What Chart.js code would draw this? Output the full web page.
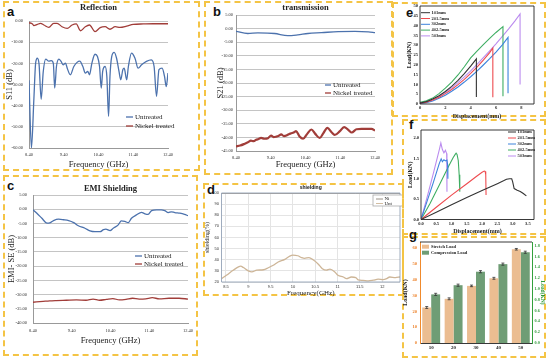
<!DOCTYPE html>
<html>
<head>
<meta charset="utf-8">
<script src="https://cdn.jsdelivr.net/npm/chart.js@4.4.1/dist/chart.umd.min.js"></script>
<style>
body { margin: 0; width: 550px; height: 362px; background: #fff; position: relative; overflow: hidden; }
.box { position: absolute; border: 2px dashed #f4c445; box-sizing: border-box; }
.lbl { position: absolute; font: bold 13px "Liberation Sans", Arial, sans-serif; line-height: 1; color: #111; }
canvas { position: absolute; }
</style>
</head>
<body>
<div class="box" style="left:3px;top:1px;width:197px;height:170px"></div>
<div class="box" style="left:204px;top:1px;width:189px;height:174px"></div>
<div class="box" style="left:3px;top:175px;width:195px;height:181px"></div>
<div class="box" style="left:203px;top:183px;width:201px;height:113px"></div>
<div class="box" style="left:392px;top:2px;width:154px;height:115px"></div>
<div class="box" style="left:402px;top:119px;width:144px;height:116px"></div>
<div class="box" style="left:402px;top:236px;width:144px;height:122px"></div>
<div class="lbl" style="left:7px;top:5px">a</div>
<div class="lbl" style="left:213px;top:5px">b</div>
<div class="lbl" style="left:7px;top:179px">c</div>
<div class="lbl" style="left:207px;top:183px">d</div>
<div class="lbl" style="left:406px;top:6px">e</div>
<div class="lbl" style="left:409px;top:118px">f</div>
<div class="lbl" style="left:409px;top:228px">g</div>
<script>
// ---- a: reflection ----
const aFreqUnt = [8.40, 8.47, 8.54, 8.59, 8.64, 8.69, 8.75, 8.81, 8.88, 8.97, 9.04, 9.10, 9.14, 9.19, 9.26, 9.32, 9.38, 9.45, 9.50, 9.59, 9.69, 9.86, 9.95, 10.02, 10.09, 10.14, 10.21, 10.30, 10.37, 10.43, 10.48, 10.52, 10.59, 10.64, 10.69, 10.73, 10.78, 10.85, 10.92, 10.99, 11.04, 11.10, 11.14, 11.21, 11.26, 11.35, 11.45, 11.54, 11.64, 11.78, 11.92, 12.00, 12.07, 12.14, 12.23, 12.30, 12.35, 12.40];
const aS11Unt = [-28, -60, -37, -20, -17.6, -20.5, -37, -24, -18, -19, -18.7, -20, -31.7, -21.5, -18, -19, -20.7, -19.9, -22.3, -25.4, -21.5, -19, -21.5, -24.6, -23.8, -25.4, -19.9, -15.7, -16.8, -21.5, -31.7, -23.8, -21.5, -26.2, -45, -26.2, -16.8, -14.8, -17.6, -23.8, -27.8, -23, -22.3, -27.8, -21.5, -15.2, -17.6, -22.3, -20.7, -19.1, -18.4, -21.5, -35.6, -23, -22.3, -26.2, -31, -24.6];
const aFreqNi = [8.40, 8.50, 8.54, 8.64, 8.73, 8.83, 8.97, 9.11, 9.21, 9.35, 9.50, 9.64, 9.76, 9.88, 10.02, 10.14, 10.30, 10.45, 10.59, 10.73, 10.88, 11.02, 11.21, 11.40, 11.69, 11.97, 12.40];
const aS11Ni = [-0.8, -1.4, -2.2, -1.6, -1.1, -1.9, -3.0, -1.1, -1.1, -2.7, -3.5, -1.9, -1.4, -4.6, -2.7, -1.9, -5.0, -3.1, -2.7, -3.9, -2.7, -3.0, -2.4, -1.6, -1.4, -1.3, -1.3];
const aYTicks = [0, -10, -20, -30, -40, -50, -60];

// ---- b: transmission ----
const bFreqUnt = [8.40, 8.74, 9.03, 9.51, 9.89, 10.18, 10.47, 10.86, 11.34, 11.82, 12.21, 12.40];
const bS21Unt = [-1.0, -1.8, -1.6, -1.8, -2.6, -2.3, -1.8, -1.5, -1.1, -1.0, -1.2, -1.5];
const bFreqNi = [8.40, 8.52, 8.64, 8.74, 8.83, 8.91, 8.98, 9.05, 9.12, 9.22, 9.32, 9.41, 9.48, 9.56, 9.63, 9.70, 9.78, 9.85, 9.92, 9.99, 10.06, 10.13, 10.23, 10.33, 10.45, 10.57, 10.68, 10.81, 10.91, 11.03, 11.15, 11.24, 11.39, 11.51, 11.63, 11.73, 11.87, 12.01, 12.16, 12.30, 12.40];
const bS21Ni = [-43.3, -43.0, -42.4, -41.8, -41.2, -41.4, -40.9, -40.6, -40.2, -40.5, -40.3, -39.3, -39.9, -39.7, -39.4, -38.9, -39.5, -39.3, -38.8, -38.5, -38.2, -37.7, -39.7, -40.5, -38.7, -37.1, -38.7, -40.2, -38.5, -36.5, -38.1, -39.1, -37.7, -36.2, -37.2, -38.2, -37.0, -36.9, -36.9, -36.9, -37.5];
const bYTicks = [5, 0, -5, -10, -15, -20, -25, -30, -35, -40, -45];

// ---- c: EMI shielding ----
const cFreqUnt = [8.40, 8.50, 8.63, 8.76, 8.85, 8.93, 9.06, 9.19, 9.32, 9.45, 9.57, 9.74, 9.87, 10.00, 10.13, 10.22, 10.28, 10.39, 10.47, 10.60, 10.68, 10.77, 10.86, 10.94, 11.07, 11.20, 11.29, 11.37, 11.46, 11.59, 11.71, 11.80, 11.89, 11.97, 12.06, 12.19, 12.31, 12.40];
const cSEUnt = [-0.2, -1.4, -3.2, -4.9, -4.7, -4.0, -3.5, -3.7, -4.0, -4.7, -5.8, -6.7, -7.6, -7.9, -7.9, -7.2, -7.0, -7.5, -6.7, -5.5, -4.1, -4.3, -4.7, -3.2, -2.0, -1.1, -1.6, -1.8, -0.5, -0.2, -0.2, -0.5, -1.2, -0.9, -1.2, -1.4, -1.8, -2.3];
const cFreqNi = [8.40, 8.66, 8.83, 9.00, 9.26, 9.52, 9.77, 9.95, 10.12, 10.29, 10.46, 10.63, 10.80, 10.97, 11.14, 11.31, 11.48, 11.66, 11.91, 12.17, 12.40];
const cSENi = [-32.7, -32.4, -32.2, -32.1, -32.0, -31.9, -32.0, -31.6, -32.0, -31.7, -31.4, -31.9, -31.7, -31.3, -31.6, -31.5, -31.1, -31.5, -31.3, -31.3, -31.6];
const cYTicks = [5, 0, -5, -10, -15, -20, -25, -30, -35, -40];
const abcXTicks = [8.4, 9.4, 10.4, 11.4, 12.4];

// ---- d: shielding (%) ----
const dFreqUnt = [8.4, 8.51, 8.66, 8.78, 8.83, 8.89, 9.0, 9.08, 9.19, 9.34, 9.45, 9.56, 9.67, 9.82, 9.93, 10.0, 10.11, 10.19, 10.26, 10.36, 10.46, 10.57, 10.66, 10.75, 10.83, 10.94, 11.01, 11.13, 11.2, 11.31, 11.41, 11.46, 11.57, 11.69, 11.8, 11.91, 12.02, 12.1, 12.17, 12.3, 12.4];
const dShieldUnt = [23, 26, 30.5, 33.6, 34.2, 33, 30, 29.1, 30.6, 31, 32.8, 35, 38, 40.3, 43.3, 44.2, 43.6, 42, 41.2, 42, 39.7, 36, 32, 30.6, 31.5, 29, 26, 24.5, 23, 24.5, 24, 22, 21.5, 21, 21.6, 22.5, 22.2, 23, 24.5, 24, 24.5];
const dFreqNi = [8.4, 9.4, 10.4, 11.4, 12.4];
const dShieldNi = [99.9, 99.9, 99.9, 99.9, 99.9];
const dXTicks = [8.5, 9, 9.5, 10, 10.5, 11, 11.5, 12];
const dYTicks = [20, 30, 40, 50, 60, 70, 80, 90, 100];

// ---- e: load-displacement, stretch ----
const eNames = ['1#1mm', '2#1.5mm', '3#2mm', '4#2.5mm', '5#3mm'];
const eDisp1 = [0, 0.5, 1, 1.5, 2, 2.5, 3, 3.5, 4, 4.45, 4.45];
const eLoad1 = [0.5, 1.2, 2.5, 4.2, 6.4, 9, 12, 15.5, 19.3, 23, 3.6];
const eDisp2 = [0, 0.5, 1, 1.5, 2, 2.5, 3, 3.5, 4, 4.5, 5, 5.5, 5.75, 5.75];
const eLoad2 = [0.4, 0.9, 2.0, 3.5, 5.3, 7.4, 9.9, 12.6, 15.6, 18.8, 22.4, 26.2, 28.6, 3.5];
const eDisp3 = [0, 0.5, 1, 1.5, 2, 2.5, 3, 3.5, 4, 4.5, 5, 5.5, 6, 6.5, 6.95, 6.95];
const eLoad3 = [0.3, 0.6, 1.5, 2.9, 4.5, 6.5, 8.7, 11.2, 13.9, 16.8, 19.9, 23.1, 26.5, 30.2, 34, 5.5];
const eDisp4 = [0, 0.5, 1, 1.5, 2, 2.5, 3, 3.5, 4, 4.5, 5, 5.5, 6, 6.55, 6.55];
const eLoad4 = [0.8, 1.6, 3, 5.3, 8.1, 11.2, 14.8, 19, 23.5, 27, 30.3, 33.5, 36.5, 39.5, 3.9];
const eDisp5 = [0, 0.5, 1, 1.5, 2, 2.5, 3, 3.5, 4, 4.5, 5, 5.5, 6, 6.5, 7, 7.5, 7.9, 7.9];
const eLoad5 = [0.5, 1.0, 2.2, 3.8, 5.8, 8.2, 10.9, 13.8, 16.9, 20.2, 23.6, 27.1, 30.7, 34.5, 38.3, 42.4, 46, 10];

// ---- f: load-displacement, compression ----
const fDisp1 = [0, 0.5, 1, 1.5, 2, 2.5, 2.7, 2.8, 2.9, 2.97, 3.0, 3.05, 3.15, 3.25, 3.35, 3.45];
const fLoad1 = [0, 0.18, 0.36, 0.54, 0.71, 0.88, 0.95, 0.99, 1.0, 1.0, 0.93, 0.76, 0.72, 0.69, 0.64, 0.58];
const fDisp2 = [0, 0.5, 1, 1.5, 1.8, 2.0, 2.07, 2.1, 2.12, 2.13];
const fLoad2 = [0, 0.3, 0.6, 0.88, 1.05, 1.16, 1.19, 1.18, 1.1, 0.6];
const fDisp3 = [0, 0.2, 0.4, 0.6, 0.66, 0.7, 0.75, 0.8, 0.85, 0.87, 0.88];
const fLoad3 = [0, 0.45, 0.9, 1.38, 1.49, 1.42, 1.47, 1.44, 1.46, 1.35, 1.0];
const fDisp4 = [0, 0.3, 0.6, 0.9, 1.05, 1.12, 1.15, 1.18, 1.22, 1.25, 1.27];
const fLoad4 = [0, 0.4, 0.85, 1.3, 1.52, 1.6, 1.63, 1.6, 1.45, 1.1, 0.68];
const fDisp5 = [0, 0.2, 0.4, 0.6, 0.65, 0.7, 0.75, 0.8, 0.84, 0.85];
const fLoad5 = [0, 0.55, 1.12, 1.72, 1.88, 1.72, 1.64, 1.7, 1.62, 0.68];

// ---- g: bars ----
const gCats = ['10', '20', '30', '40', '50'];
const gStretch = [22.5, 28, 36.2, 41, 59.4];
const gStretchErr = [0.6, 0.6, 0.5, 0.6, 0.5];
const gCompress = [0.90, 1.07, 1.32, 1.46, 1.68];
const gCompressErr = [0.02, 0.02, 0.02, 0.02, 0.02];

const SERIF = '"Liberation Serif", "Times New Roman", serif';
const SANS = '"Liberation Sans", Arial, sans-serif';
const BLUE = '#4c72ad';
const RED = '#a13d39';
const SPEC = ['#333333', '#ee4b4f', '#3d83dc', '#3fae63', '#bb8cef'];

function xy(xs, ys) { return xs.map((x, i) => ({ x: x, y: ys[i] })); }

function place(L, T, W, H) {
    const c = document.createElement('canvas');
    c.width = W; c.height = H;
    c.style.left = L + 'px'; c.style.top = T + 'px';
    document.body.appendChild(c);
    return c;
}

// pin axis thickness so the plot area lands where the original has it
function fixW(w) { return s => { s.width = w; s.paddingTop = 0; s.paddingBottom = 0; }; }
function fixH(h) { return s => { s.height = h; s.paddingLeft = 0; s.paddingRight = 0; }; }
function useTicks(vals) { return s => { s.ticks = vals.map(v => ({ value: v })); }; }

// legend drawn inside the plot, one row per dataset
const insideLegend = {
    id: 'insideLegend',
    afterDraw(chart, args, o) {
        if (o.x === undefined) return;
        const ctx = chart.ctx;
        ctx.save();
        if (o.fx !== undefined) {
            ctx.fillStyle = '#fff';
            ctx.fillRect(o.fx, o.fy, o.fw, o.fh);
            ctx.strokeStyle = '#aaa'; ctx.lineWidth = 0.8;
            ctx.strokeRect(o.fx, o.fy, o.fw, o.fh);
        }
        ctx.font = o.font;
        ctx.textBaseline = 'middle';
        ctx.textAlign = 'left';
        chart.data.datasets.forEach((ds, i) => {
            const y = o.y + i * o.rowH;
            if (o.boxH) {
                ctx.fillStyle = ds.backgroundColor;
                ctx.fillRect(o.x, y - o.boxH / 2, o.lineLen, o.boxH);
            } else {
                ctx.strokeStyle = ds.borderColor;
                ctx.lineWidth = o.lineW || 1.3;
                ctx.beginPath(); ctx.moveTo(o.x, y); ctx.lineTo(o.x + o.lineLen, y); ctx.stroke();
            }
            ctx.fillStyle = o.color || '#222';
            ctx.fillText(ds.label, o.x + o.lineLen + o.gap, y);
        });
        ctx.restore();
    }
};

// box (or only its top side) round the plot area
const frame = {
    id: 'frame',
    afterDatasetsDraw(chart, args, o) {
        if (!o.color) return;
        const a = chart.chartArea, ctx = chart.ctx;
        ctx.save();
        ctx.strokeStyle = o.color; ctx.lineWidth = o.width || 1;
        ctx.beginPath();
        if (o.topOnly) { ctx.moveTo(a.left, a.top); ctx.lineTo(a.right, a.top); }
        else ctx.rect(a.left, a.top, a.right - a.left, a.bottom - a.top);
        ctx.stroke();
        ctx.restore();
    }
};

// error bars for the bar chart, from each dataset's errors array
const errorBars = {
    id: 'errorBars',
    afterDatasetsDraw(chart) {
        const ctx = chart.ctx;
        ctx.save();
        ctx.strokeStyle = '#333'; ctx.lineWidth = 0.8;
        chart.data.datasets.forEach((ds, i) => {
            const meta = chart.getDatasetMeta(i);
            const sc = chart.scales[ds.yAxisID];
            meta.data.forEach((bar, j) => {
                const v = ds.data[j], e = ds.errors[j];
                const y1 = sc.getPixelForValue(v + e), y2 = sc.getPixelForValue(v - e);
                ctx.beginPath();
                ctx.moveTo(bar.x, y1); ctx.lineTo(bar.x, y2);
                ctx.moveTo(bar.x - 1.5, y1); ctx.lineTo(bar.x + 1.5, y1);
                ctx.moveTo(bar.x - 1.5, y2); ctx.lineTo(bar.x + 1.5, y2);
                ctx.stroke();
            });
        });
        ctx.restore();
    }
};

// shared look of the three Excel-style panels (a, b, c)
function excel(box, area, o) {
    const [L, T, W, H] = box, [l, t, r, b] = area;
    const tf = { family: SERIF, size: 8.5 };
    return {
        responsive: false, animation: false, devicePixelRatio: 1,
        layout: { autoPadding: false, padding: { left: 0, top: 0, bottom: 0, right: L + W - r } },
        elements: { point: { radius: 0 }, line: { cubicInterpolationMode: 'monotone' } },
        plugins: {
            legend: { display: false }, tooltip: { enabled: false },
            title: { display: true, fullSize: false, text: o.title, color: '#222', font: tf,
                padding: { top: o.titleY - T - 5.1, bottom: t - o.titleY - 5.1 } },
            insideLegend: o.legend
        },
        scales: {
            x: {
                type: 'linear', min: 8.4, max: 12.4,
                afterFit: fixH(T + H - b), afterBuildTicks: useTicks(abcXTicks),
                grid: { display: false, drawTicks: false }, border: { display: true, color: '#999' },
                ticks: { autoSkip: false, maxRotation: 0, padding: o.xPad, color: '#333',
                    font: { family: SERIF, size: 4.5 }, callback: v => v.toFixed(2) },
                title: { display: true, text: 'Frequency (GHz)', color: '#222', font: tf, padding: 0 }
            },
            y: {
                type: 'linear', min: o.yMin, max: o.yMax,
                afterFit: fixW(l - L), afterBuildTicks: useTicks(o.yTicks),
                grid: { color: '#c4c4c4', drawTicks: false }, border: { display: true, color: '#999' },
                ticks: { autoSkip: false, padding: o.yPad, color: '#333',
                    font: { family: SERIF, size: 4.5 }, callback: v => v.toFixed(2) },
                title: { display: true, text: o.yTitle, color: '#222', font: tf,
                    padding: { top: Math.max(o.yTitleX - L - 5.1, 0), bottom: 0 } }
            }
        }
    };
}

new Chart(place(5, 0, 193, 170), {
    type: 'line',
    data: { datasets: [
        { label: 'Untreated', data: xy(aFreqUnt, aS11Unt), borderColor: BLUE, borderWidth: 1.3 },
        { label: 'Nickel treated', data: xy(aFreqNi, aS11Ni), borderColor: RED, borderWidth: 1.3 }
    ] },
    options: excel([5, 0, 193, 170], [29, 21, 168, 148], {
        title: 'Reflection', titleY: 8, xPad: 4, yPad: 6,
        yMin: -60, yMax: 0, yTicks: aYTicks, yTitle: 'S11 (dB)', yTitleX: 10,
        legend: { x: 121, y: 117, rowH: 9, lineLen: 7, gap: 2, font: '7px ' + SERIF }
    }),
    plugins: [insideLegend]
});

new Chart(place(210, 0, 180, 170), {
    type: 'line',
    data: { datasets: [
        { label: 'Untreated', data: xy(bFreqUnt, bS21Unt), borderColor: BLUE, borderWidth: 1.3 },
        { label: 'Nickel treated', data: xy(bFreqNi, bS21Ni), borderColor: RED, borderWidth: 2.2 }
    ] },
    options: excel([210, 0, 180, 170], [236, 15, 375, 151], {
        title: 'transmission', titleY: 8, xPad: 4, yPad: 3,
        yMin: -45, yMax: 5, yTicks: bYTicks, yTitle: 'S21 (dB)', yTitleX: 221,
        legend: { x: 115, y: 85, rowH: 8, lineLen: 6, gap: 2, font: '7px ' + SERIF }
    }),
    plugins: [insideLegend]
});

new Chart(place(5, 176, 190, 170), {
    type: 'line',
    data: { datasets: [
        { label: 'Untreated', data: xy(cFreqUnt, cSEUnt), borderColor: BLUE, borderWidth: 1.3 },
        { label: 'Nickel treated', data: xy(cFreqNi, cSENi), borderColor: RED, borderWidth: 1.3 }
    ] },
    options: excel([5, 176, 190, 170], [33, 195, 188, 323], {
        title: 'EMI Shielding', titleY: 189, xPad: 5, yPad: 6,
        yMin: -40, yMax: 5, yTicks: cYTicks, yTitle: 'EMI- SE (dB)', yTitleX: 12,
        legend: { x: 130, y: 80, rowH: 8, lineLen: 7, gap: 2, font: '7px ' + SERIF }
    }),
    plugins: [insideLegend]
});

// d: MATLAB-style plot with full grid
new Chart(place(203, 184, 199, 113), {
    type: 'line',
    data: { datasets: [
        { label: 'Ni', data: xy(dFreqNi, dShieldNi), borderColor: '#8d8378', borderWidth: 1 },
        { label: 'Unt', data: xy(dFreqUnt, dShieldUnt), borderColor: '#cdb597', borderWidth: 1.3 }
    ] },
    options: {
        responsive: false, animation: false, devicePixelRatio: 1,
        layout: { autoPadding: false, padding: { left: 0, top: 0, bottom: 0, right: 2 } },
        elements: { point: { radius: 0 }, line: { cubicInterpolationMode: 'monotone' } },
        plugins: {
            legend: { display: false }, tooltip: { enabled: false },
            title: { display: true, fullSize: false, text: 'shielding', color: '#111',
                font: { family: SANS, size: 5, weight: 'bold' }, padding: { top: 1, bottom: 2 } },
            insideLegend: { x: 173, y: 15, rowH: 4.5, lineLen: 7, gap: 1.5, lineW: 0.9,
                font: '5px ' + SERIF, fx: 170, fy: 11, fw: 30, fh: 11 },
            frame: { color: '#8797ad', width: 0.8 }
        },
        scales: {
            x: {
                type: 'linear', min: 8.4, max: 12.4,
                afterFit: fixH(15), afterBuildTicks: useTicks(dXTicks),
                grid: { color: '#e4e4e4', drawTicks: false }, border: { display: false },
                ticks: { autoSkip: false, maxRotation: 0, padding: 2.6, color: '#333',
                    font: { family: SANS, size: 4 }, callback: v => String(v) },
                title: { display: true, text: 'Frequency(GHz)', color: '#222', font: { family: SERIF, size: 7 }, padding: 0 }
            },
            y: {
                type: 'linear', min: 20, max: 100,
                afterFit: fixW(18.5), afterBuildTicks: useTicks(dYTicks),
                grid: { color: '#e4e4e4', drawTicks: false }, border: { display: false },
                ticks: { autoSkip: false, padding: 2.5, color: '#333',
                    font: { family: SANS, size: 4 }, callback: v => String(v) },
                title: { display: true, text: 'shielding(%)', color: '#222', font: { family: SERIF, size: 6 },
                    padding: { top: 0.4, bottom: 0 } }
            }
        }
    },
    plugins: [insideLegend, frame]
});

// shared look of the two Origin-style load curves (e, f)
function origin(box, area, o) {
    const [L, T, W, H] = box, [l, t, r, b] = area;
    const tk = { family: SERIF, size: 4.5, weight: 'bold' };
    const tt = { family: SERIF, size: 6, weight: 'bold' };
    return {
        responsive: false, animation: false, devicePixelRatio: 1,
        layout: { autoPadding: false, padding: { left: 0, top: t - T, bottom: 0, right: L + W - r } },
        elements: { point: { radius: 0 }, line: { tension: 0 } },
        plugins: {
            legend: { display: false }, tooltip: { enabled: false },
            insideLegend: o.legend,
            frame: { color: '#222', width: 0.9 }
        },
        scales: {
            x: {
                type: 'linear', min: 0, max: o.xMax,
                afterFit: fixH(T + H - b), afterBuildTicks: useTicks(o.xTicks),
                grid: { display: false, drawTicks: false }, border: { display: false },
                ticks: { autoSkip: false, maxRotation: 0, padding: o.xPad, color: '#222', font: tk,
                    callback: o.xFmt },
                title: { display: true, text: 'Displacement(mm)', color: '#222', font: tt, padding: 0 }
            },
            y: {
                type: 'linear', min: 0, max: o.yMax,
                afterFit: fixW(l - L), afterBuildTicks: useTicks(o.yTicks),
                grid: { display: false, drawTicks: false }, border: { display: false },
                ticks: { autoSkip: false, padding: 2, color: '#222', font: tk, callback: o.yFmt },
                title: { display: true, text: 'Load(KN)', color: '#222', font: tt,
                    padding: { top: o.yTitleX - L - 3.6, bottom: 0 } }
            }
        }
    };
}

new Chart(place(404, 2, 140, 118), {
    type: 'line',
    data: { datasets: [
        { label: eNames[0], data: xy(eDisp1, eLoad1), borderColor: SPEC[0], borderWidth: 1.1 },
        { label: eNames[1], data: xy(eDisp2, eLoad2), borderColor: SPEC[1], borderWidth: 1.1 },
        { label: eNames[2], data: xy(eDisp3, eLoad3), borderColor: SPEC[2], borderWidth: 1.1 },
        { label: eNames[3], data: xy(eDisp4, eLoad4), borderColor: SPEC[3], borderWidth: 1.1 },
        { label: eNames[4], data: xy(eDisp5, eLoad5), borderColor: SPEC[4], borderWidth: 1.1 }
    ] },
    options: origin([404, 2, 140, 118], [420, 6, 534, 104], {
        xMax: 9, xTicks: [0, 2, 4, 6, 8], xPad: 1.5, xFmt: v => String(v),
        yMax: 50, yTicks: [0, 5, 10, 15, 20, 25, 30, 35, 40, 45, 50], yFmt: v => String(v), yTitleX: 409,
        legend: { x: 17, y: 10.7, rowH: 5.8, lineLen: 9, gap: 1.5, lineW: 1, font: 'bold 4.5px ' + SERIF }
    }),
    plugins: [insideLegend, frame]
});

new Chart(place(404, 120, 142, 115), {
    type: 'line',
    data: { datasets: [
        { label: eNames[0], data: xy(fDisp1, fLoad1), borderColor: SPEC[0], borderWidth: 1.1 },
        { label: eNames[1], data: xy(fDisp2, fLoad2), borderColor: SPEC[1], borderWidth: 1.1 },
        { label: eNames[2], data: xy(fDisp3, fLoad3), borderColor: SPEC[2], borderWidth: 1.1 },
        { label: eNames[3], data: xy(fDisp4, fLoad4), borderColor: SPEC[3], borderWidth: 1.1 },
        { label: eNames[4], data: xy(fDisp5, fLoad5), borderColor: SPEC[4], borderWidth: 1.1 }
    ] },
    options: origin([404, 120, 142, 115], [421, 130, 534, 219.5], {
        xMax: 3.7, xTicks: [0, 0.5, 1, 1.5, 2, 2.5, 3, 3.5], xPad: 1.5, xFmt: v => v.toFixed(1),
        yMax: 2.2, yTicks: [0, 0.5, 1, 1.5, 2], yFmt: v => v.toFixed(1), yTitleX: 410,
        legend: { x: 104, y: 12, rowH: 6, lineLen: 8, gap: 1.5, lineW: 1, font: 'bold 4.5px ' + SERIF }
    }),
    plugins: [insideLegend, frame]
});

// g: paired bars on two y axes
new Chart(place(400, 238, 148, 114), {
    type: 'bar',
    data: {
        labels: gCats,
        datasets: [
            { label: 'Stretch Load', data: gStretch, errors: gStretchErr, yAxisID: 'y',
              backgroundColor: '#ebbd91', categoryPercentage: 0.8, barPercentage: 1 },
            { label: 'Compression Load', data: gCompress, errors: gCompressErr, yAxisID: 'y1',
              backgroundColor: '#6f9d75', categoryPercentage: 0.8, barPercentage: 1 }
        ]
    },
    options: {
        responsive: false, animation: false, devicePixelRatio: 1,
        layout: { autoPadding: false, padding: { left: 0, top: 4, bottom: 0, right: 0 } },
        plugins: {
            legend: { display: false }, tooltip: { enabled: false },
            insideLegend: { x: 22, y: 8.7, rowH: 6, lineLen: 7, boxH: 4, gap: 2, font: 'bold 4.5px ' + SERIF },
            frame: { color: '#222', width: 0.9, topOnly: true }
        },
        scales: {
            x: {
                afterFit: fixH(9),
                grid: { display: false, drawTicks: false }, border: { display: true, color: '#222', width: 0.9 },
                ticks: { padding: 2, color: '#222', font: { family: SERIF, size: 5, weight: 'bold' } }
            },
            y: {
                position: 'left', min: 0, max: 64,
                afterFit: fixW(20), afterBuildTicks: useTicks([0, 10, 20, 30, 40, 50, 60]),
                grid: { display: false, drawTicks: false }, border: { display: true, color: '#f08a2c', width: 1 },
                ticks: { autoSkip: false, padding: 3, color: '#ec7f25', font: { family: SERIF, size: 4.5, weight: 'bold' } },
                title: { display: true, text: 'Load(KN)', color: '#222', font: { family: SERIF, size: 6, weight: 'bold' },
                    padding: { top: 1.4, bottom: 0 } }
            },
            y1: {
                position: 'right', min: 0, max: 1.87,
                afterFit: fixW(16), afterBuildTicks: useTicks([0, 0.2, 0.4, 0.6, 0.8, 1.0, 1.2, 1.4, 1.6, 1.8]),
                grid: { display: false, drawTicks: false }, border: { display: true, color: '#33a03c', width: 1 },
                ticks: { autoSkip: false, padding: 2.5, color: '#2f9a3a', font: { family: SERIF, size: 4.2, weight: 'bold' },
                    callback: v => v.toFixed(1) },
                title: { display: true, text: 'Load(KN)', color: '#2f9a3a', font: { family: SERIF, size: 5.5, weight: 'bold' },
                    padding: { top: 2.7, bottom: 0 } }
            }
        }
    },
    plugins: [insideLegend, frame, errorBars]
});
</script>
</body>
</html>
